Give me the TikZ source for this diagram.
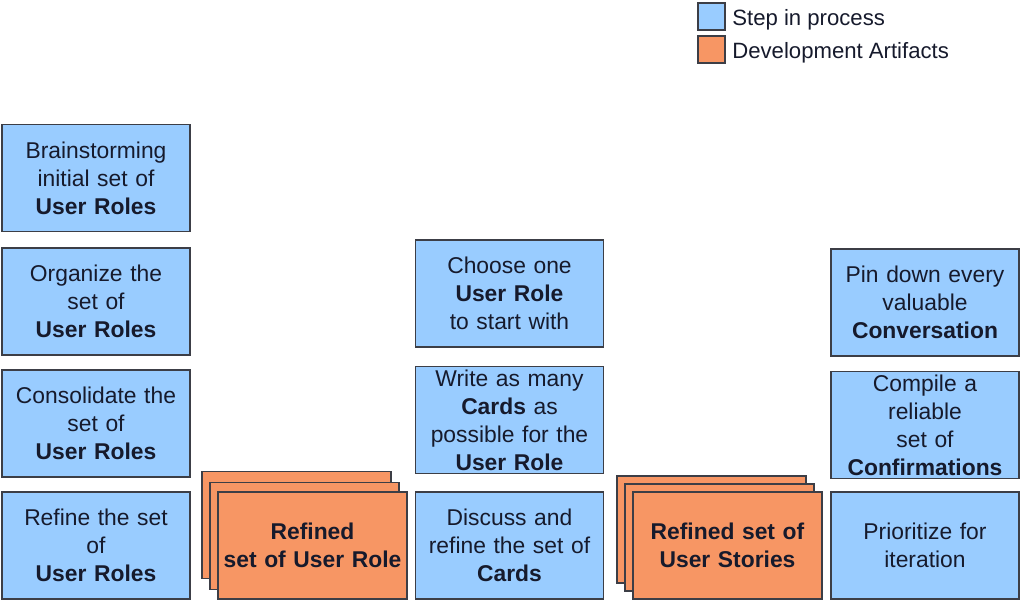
\documentclass[tikz,border=0pt]{standalone}
\usepackage{fontspec}
\setmainfont{Liberation Sans}
\usepackage{xcolor}
\definecolor{stepblue}{RGB}{153,204,255}
\definecolor{artorange}{RGB}{247,150,100}
\definecolor{edgegray}{RGB}{60,62,70}
\definecolor{inkblue}{RGB}{22,26,44}
\usetikzlibrary{positioning}

\begin{document}
\begin{tikzpicture}[
stepbox/.style={draw=edgegray,line width=0.8pt,fill=stepblue,text=inkblue,align=center,
  text width=3.7cm,minimum width=3.76cm,minimum height=2.14cm,inner sep=0pt,
  font=\fontsize{13}{15.9}\selectfont},
artbox/.style={stepbox,fill=artorange,text width=3.72cm,minimum width=3.78cm},
legbox/.style={draw=edgegray,line width=0.8pt,minimum size=0.54cm,inner sep=0pt},
legtext/.style={anchor=west,text=inkblue,inner sep=0pt,font=\fontsize{12.6}{15}\selectfont}]
\useasboundingbox (0,0) rectangle (20.48,12.08);

% legend
\node[legbox,fill=stepblue] (legstep) at (14.23,11.75) {};
\node[legbox,fill=artorange] (legart) at (14.23,11.09) {};
\node[legtext] (legsteptxt) at (14.64,11.69) {Step in process};
\node[legtext] (legarttxt) at (14.64,11.03) {Development Artifacts};

% user roles
\node[stepbox] (brain) at (1.92,8.52) {Brainstorming\\initial set of\\\textbf{User Roles}};
\node[stepbox] (organize) at (1.92,6.05) {Organize the\\set of\\\textbf{User Roles}};
\node[stepbox] (consolidate) at (1.92,3.61) {Consolidate the\\set of\\\textbf{User Roles}};
\node[stepbox] (refine) at (1.92,1.17) {Refine the set\\of\\\textbf{User Roles}};

% refined roles (stack)
\node[artbox] (rolesC) at (5.93,1.58) {};
\node[artbox] (rolesB) at (6.09,1.36) {};
\node[artbox] (roles) at (6.25,1.17) {\textbf{Refined}\\\textbf{set of User Role}};

% cards
\node[stepbox] (choose) at (10.19,6.21) {Choose one\\\textbf{User Role}\\to start with};
\node[stepbox] (write) at (10.19,3.68) {Write as many\\\textbf{Cards} as\\possible for the\\\textbf{User Role}};
\node[stepbox] (discuss) at (10.19,1.17) {Discuss and\\refine the set of\\\textbf{Cards}};

% refined stories (stack)
\node[artbox] (storiesC) at (14.23,1.49) {};
\node[artbox] (storiesB) at (14.39,1.33) {};
\node[artbox] (stories) at (14.55,1.17) {\textbf{Refined set of}\\\textbf{User Stories}};

% conversations, confirmations
\node[stepbox] (pin) at (18.5,6.03) {Pin down every\\valuable\\\textbf{Conversation}};
\node[stepbox] (compile) at (18.5,3.58) {Compile a\\reliable\\set of\\\textbf{Confirmations}};
\node[stepbox] (prioritize) at (18.5,1.17) {Prioritize for\\iteration};
\end{tikzpicture}
\end{document}
